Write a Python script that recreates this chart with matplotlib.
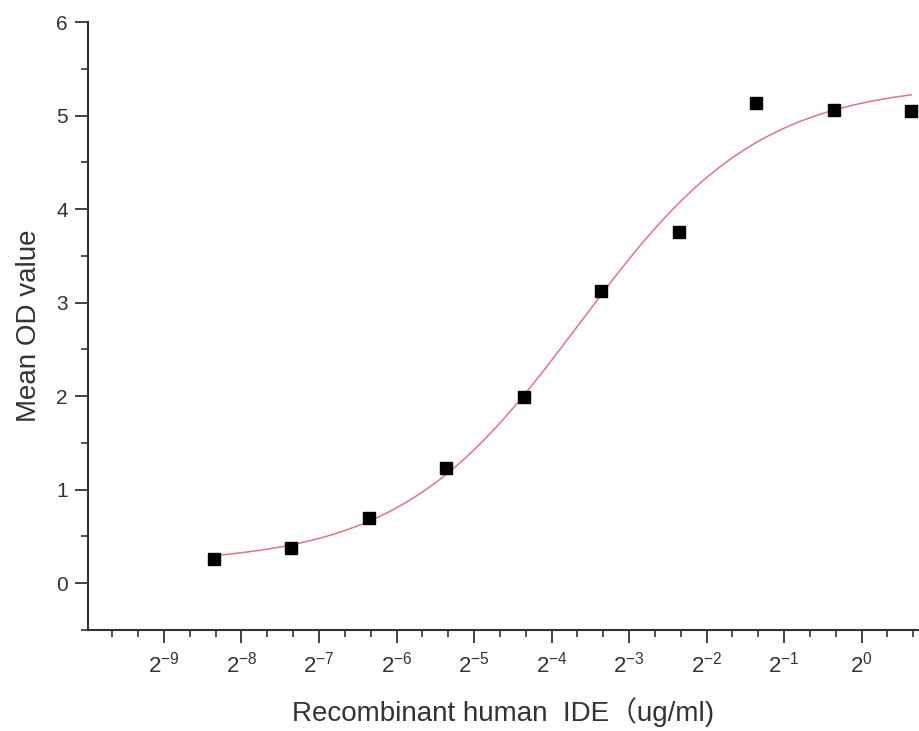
import numpy as np
import matplotlib
matplotlib.use("Agg")
import matplotlib.pyplot as plt
from matplotlib.ticker import MultipleLocator, FixedLocator


# concentration series (ug/ml), 2-fold dilution
conc = [1.56 / 2 ** k for k in range(9, -1, -1)]
od_mean = [0.26, 0.38, 0.70, 1.23, 1.99, 3.12, 3.76, 5.13, 5.06, 5.05]

xtick_pow = [-9, -8, -7, -6, -5, -4, -3, -2, -1, 0]
yticks = [0, 1, 2, 3, 4, 5, 6]

plt.rcParams['font.family'] = ['Liberation Sans', 'Noto Sans CJK SC', 'DejaVu Sans']
plt.rcParams['mathtext.fontset'] = 'custom'
plt.rcParams['mathtext.rm'] = 'Liberation Sans'
plt.rcParams['mathtext.it'] = 'Liberation Sans'


# 4 parameter logistic on log2(conc)
def logistic(p, x):
    bottom, top, c, k = p
    return bottom + (top - bottom) / (1 + np.exp(-k * (x - c)))


def fitLogistic(x, y, p0):
    p = np.array(p0, dtype=float)
    lam = 1e-2
    for _ in range(300):
        r = y - logistic(p, x)
        J = np.zeros((len(x), len(p)))
        for j in range(len(p)):
            dp = np.zeros(len(p))
            dp[j] = 1e-6
            J[:, j] = (logistic(p + dp, x) - logistic(p - dp, x)) / 2e-6
        A = J.T @ J
        step = np.linalg.solve(A + lam * np.diag(np.diag(A)), J.T @ r)
        newp = p + step
        if np.sum((y - logistic(newp, x)) ** 2) < np.sum(r ** 2):
            p = newp
            lam *= 0.5
        else:
            lam *= 3
    return p


lx = np.log2(conc)
y = np.array(od_mean)
params = fitLogistic(lx, y, [0.2, 5.3, -3.8, 0.9])
xs = np.linspace(lx[0], lx[-1], 300)

fig = plt.figure(figsize=(9.19, 7.31), dpi=100)
ax = fig.add_axes([88 / 919, 1 - 630 / 731, 831 / 919, 608 / 731])

ax.plot(xs, logistic(params, xs), color='#e8737e', lw=1.1, zorder=2)
ax.plot(lx, y, 's', color='black', ms=9, zorder=3)

ax.set_xlim(-9.98, 0.74)
ax.set_ylim(-0.5, 6)
ax.xaxis.set_major_locator(FixedLocator(xtick_pow))
ax.xaxis.set_minor_locator(MultipleLocator(1 / 3))
ax.set_xticklabels([r'$2^{%d}$' % p for p in xtick_pow])
ax.yaxis.set_major_locator(FixedLocator(yticks))
ax.yaxis.set_minor_locator(MultipleLocator(0.5))

for s in ['top', 'right']:
    ax.spines[s].set_visible(False)
for s in ['left', 'bottom']:
    ax.spines[s].set_linewidth(1.5)
    ax.spines[s].set_color('#333333')

ax.tick_params(which='major', length=9.5, width=1.3, color='#333333',
               labelsize=15, labelcolor='#333333')
ax.tick_params(axis='y', which='major', pad=5)
ax.tick_params(axis='x', which='major', pad=6, labelsize=16)
ax.tick_params(which='minor', length=5, width=1.2, color='#333333')

ax.set_ylabel('Mean OD value', fontsize=20, color='#333333', labelpad=10)
ax.set_xlabel('Recombinant human  IDE（ug/ml)', fontsize=20, color='#333333', labelpad=14)

fig.savefig('out.png', dpi=100)
